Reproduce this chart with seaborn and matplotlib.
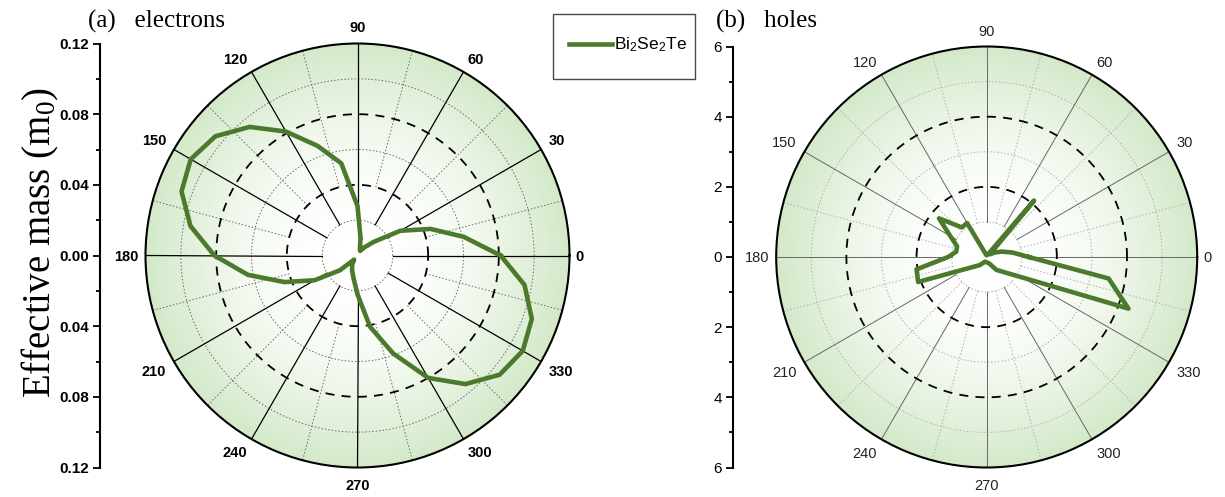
import numpy as np
import pandas as pd
import matplotlib
matplotlib.use("Agg")
import matplotlib.pyplot as plt
import seaborn as sns
from matplotlib.colors import LinearSegmentedColormap
from matplotlib.patches import Rectangle
from matplotlib.ticker import FixedLocator, FuncFormatter
from matplotlib.transforms import offset_copy

# ---------------- data ----------------
elec_angle_deg = [0, 10, 20, 30, 40, 50, 60, 70, 80, 90, 100, 110, 120, 130, 140, 150,
                  160, 170, 180, 190, 200, 210, 220, 230, 240, 250, 260, 270, 280, 290,
                  300, 310, 320, 330, 340, 350, 360]
elec_mass = [0.081, 0.061, 0.044, 0.028, 0.012, 0.006, 0.003, 0.004, 0.010, 0.028, 0.053,
             0.066, 0.081, 0.095, 0.105, 0.109, 0.106, 0.096, 0.081, 0.063, 0.044, 0.028,
             0.013, 0.003, 0.006, 0.009, 0.013, 0.022, 0.041, 0.059, 0.080, 0.095, 0.105,
             0.108, 0.105, 0.096, 0.081]

hole_angle_deg = [0, 10, 20, 30, 40, 50, 60, 80, 100, 110, 120, 130, 141, 150, 160, 170,
                  180, 190, 200, 230, 250, 290, 307, 340, 350, 360]
hole_mass = [1.2, 0.74, 0.45, 0.25, 0.12, 2.1, 0.12, 0.06, 0.05, 0.1, 1.12, 1.1, 1.75, 1.2,
             0.9, 0.88, 1.1, 2.03, 2.08, 0.3, 0.14, 0.19, 0.46, 4.3, 3.53, 1.2]

angle_ticks = list(range(0, 360, 30))
angle_labels = [str(a) for a in angle_ticks]
minor_angle_ticks = list(range(15, 360, 30))

elec_rmax = 0.12
hole_rmax = 6
elec_major_rings = [0.04, 0.08]
elec_minor_rings = [0.02, 0.06, 0.10]
hole_major_rings = [2, 4]
hole_minor_rings = [1, 3, 5]
elec_scale_ticks = [-0.12, -0.08, -0.04, 0.0, 0.04, 0.08, 0.12]
elec_scale_minor = [-0.10, -0.06, -0.02, 0.02, 0.06, 0.10]
hole_scale_ticks = [-6, -4, -2, 0, 2, 4, 6]
hole_scale_minor = [-5, -3, -1, 1, 3, 5]

series_label = "Bi$\\mathregular{_2}$Se$\\mathregular{_2}$Te"
panel_titles = ["(a)   electrons", "(b)   holes"]
y_title = "Effective mass (m$\\mathregular{_0}$)"

LINE_COLOR = "#4c7a2c"
LABEL_PT = 10.5

# ---------------- figure ----------------
fig = plt.figure(figsize=(12.25, 4.97), dpi=100)
W, H = 1225, 497

bg_cmap = LinearSegmentedColormap.from_list("bg", ["#ffffff", "#f3f9f0", "#e2f0db", "#d3e9c9"],
                                            N=256)


def px_rect(x0, y0, x1, y1):
    return [x0 / W, 1 - y1 / H, (x1 - x0) / W, (y1 - y0) / H]


def angle_label(ax, a, text, rmax, bold, color):
    t = np.deg2rad(a)
    c, s = np.cos(t), np.sin(t)
    cap = 0.716 * LABEL_PT * 100 / 72
    d = 9.0
    if abs(s) < 1e-6:          # 0 / 180
        ha = "left" if c > 0 else "right"
        dx, dy = (6 if c > 0 else -7), -cap / 2
    elif abs(c) < 1e-6:        # 90 / 270
        ha = "center"
        dx, dy = 0, (11 if s > 0 else -12 - cap)
    else:
        ha = "left" if c > 0 else "right"
        dx = d * c
        dy = d * s if s > 0 else d * s - cap
    tr = offset_copy(ax.transData, fig=fig, x=dx, y=dy, units="dots")
    ax.text(t, rmax, text, transform=tr, ha=ha, va="baseline", fontsize=LABEL_PT,
            fontweight="bold" if bold else "normal", color=color,
            family="Liberation Sans", clip_on=False)


def make_panel(rect, rmax, major_rings, minor_rings, inner_r, minor_start,
               thetas, values, bold, solid_col, solid_lw, dot_col, lab_col):
    ax = fig.add_axes(rect, projection="polar")
    ax.set_ylim(0, rmax)
    ax.set_facecolor("white")
    # radial gradient background
    T, R = np.meshgrid(np.linspace(0, 2 * np.pi, 181), np.linspace(0, rmax, 80))
    ax.pcolormesh(T, R, (R / rmax) ** 1.8, cmap=bg_cmap, shading="gouraud",
                  zorder=0, vmin=0, vmax=1)
    ax.grid(False)
    ax.set_yticks([])
    tfine = np.linspace(0, 2 * np.pi, 721)
    for r in minor_rings:
        ax.plot(tfine, np.full_like(tfine, r), color=dot_col, lw=0.7,
                ls=(0, (1.5, 2)), zorder=1)
    for r in major_rings:
        ax.plot(tfine, np.full_like(tfine, r), color="black", lw=1.3,
                ls=(0, (5, 4)), zorder=1.5)
    for a in angle_ticks:
        t = np.deg2rad(a)
        ax.plot([t, t], [inner_r, rmax], color=solid_col, lw=solid_lw, zorder=1.2)
    for a in minor_angle_ticks:
        t = np.deg2rad(a)
        ax.plot([t, t], [minor_start, rmax], color=dot_col, lw=0.7,
                ls=(0, (1.5, 2)), zorder=1)
    df = pd.DataFrame({"theta": np.deg2rad(thetas), "mass": values})
    sns.lineplot(data=df, x="theta", y="mass", ax=ax, sort=False, estimator=None,
                 color=LINE_COLOR, lw=3.3, legend=False, zorder=3)
    ax.set_xlabel("")
    ax.set_ylabel("")
    ax.set_xticks(np.deg2rad(angle_ticks))
    ax.set_xticklabels([])
    ax.set_xticks(np.deg2rad(minor_angle_ticks), minor=True)
    ax.tick_params(axis="x", which="major", length=0)
    ax.tick_params(axis="x", which="minor", length=5, width=1, direction="in")
    ax.spines["polar"].set_linewidth(1.5)
    ax.spines["polar"].set_color("black")
    for a, lab in zip(angle_ticks, angle_labels):
        angle_label(ax, a, lab, rmax, bold, lab_col)
    return ax


def make_scale(x_px, rect, rmax, ticks, minor, fmt, bold):
    ax = fig.add_axes([x_px / W, rect[1], 0.0005, rect[3]])
    ax.set_ylim(-rmax, rmax)
    ax.set_xticks([])
    for s in ["top", "right", "bottom"]:
        ax.spines[s].set_visible(False)
    ax.spines["left"].set_linewidth(1.5)
    ax.yaxis.set_major_locator(FixedLocator(ticks))
    ax.yaxis.set_minor_locator(FixedLocator(minor))
    ax.yaxis.set_major_formatter(FuncFormatter(lambda v, p: fmt(abs(v))))
    ax.tick_params(axis="y", which="major", length=5, width=1.3, pad=3)
    ax.tick_params(axis="y", which="minor", length=3, width=1.3)
    for lab in ax.get_yticklabels():
        lab.set_fontfamily("Liberation Sans")
        lab.set_fontsize(11)
        lab.set_fontweight("bold" if bold else "normal")
    ax.patch.set_visible(False)
    return ax


rect_a = px_rect(145.5, 43.5, 569.5, 467.5)
rect_b = px_rect(776.2, 46.5, 1197.2, 467.5)

ax_a = make_panel(rect_a, elec_rmax, elec_major_rings, elec_minor_rings, 0.02, 0.04,
                  elec_angle_deg, elec_mass, True, "black", 0.9, "#6a6a6a", "black")
ax_b = make_panel(rect_b, hole_rmax, hole_major_rings, hole_minor_rings, 1, 1,
                  hole_angle_deg, hole_mass, False, "#666666", 0.7, "#b0b0b0", "#222222")

make_scale(100, rect_a, elec_rmax, elec_scale_ticks, elec_scale_minor,
           lambda v: f"{v:.2f}", True)
make_scale(733, rect_b, hole_rmax, hole_scale_ticks, hole_scale_minor,
           lambda v: f"{v:g}", False)

# titles and y label
fig.text(88 / W, 1 - 21 / H, panel_titles[0], family="Liberation Serif", fontsize=18,
         ha="left", va="center")
fig.text(716 / W, 1 - 21 / H, panel_titles[1], family="Liberation Serif", fontsize=18,
         ha="left", va="center")
fig.text(40 / W, 1 - 243 / H, y_title, family="Liberation Serif", fontsize=28,
         rotation=90, ha="center", va="center")

# legend
handle = ax_a.lines[-1]
fig.legend([handle], [series_label], loc="center left",
           bbox_to_anchor=(560 / W, 1 - 45 / H), frameon=False,
           prop={"family": "Liberation Sans", "size": 12.5},
           handlelength=2.5, handletextpad=0.1, borderpad=0)
fig.add_artist(Rectangle((553 / W, 1 - 79 / H), 142 / W, 65 / H, transform=fig.transFigure,
                         fill=False, edgecolor="#4a4a4a", lw=1.0))

fig.savefig("out.png", dpi=100)
